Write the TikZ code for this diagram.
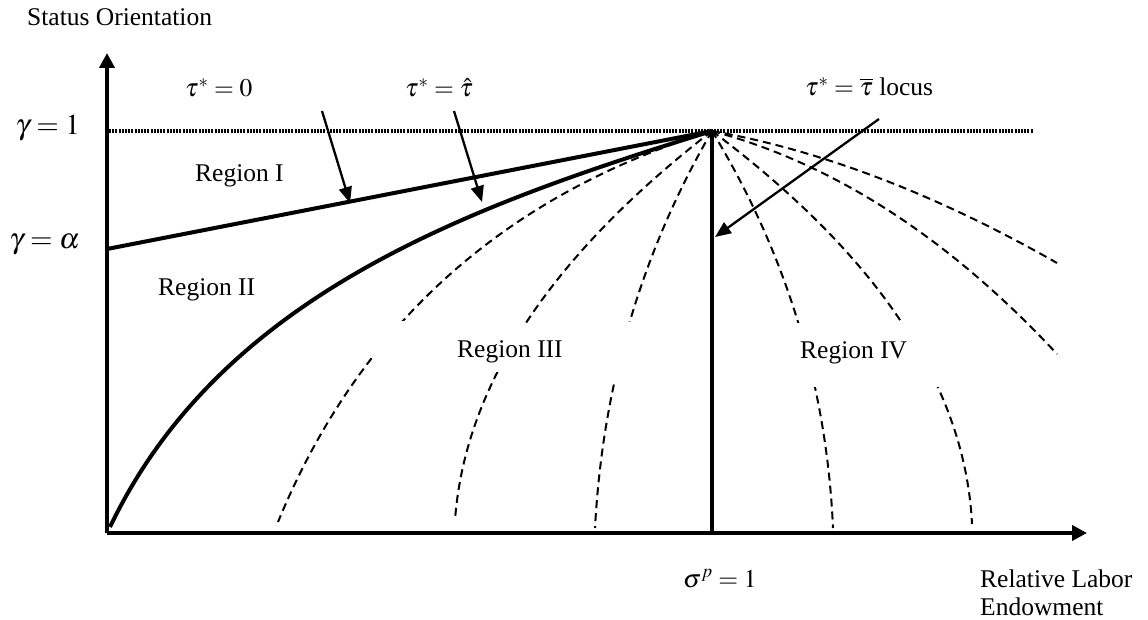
\documentclass[tikz,border=0pt]{standalone}
\usepackage{fix-cm}
\usepackage{mathptmx}
\usepackage{fontspec}
\setmainfont{Liberation Serif}
\usetikzlibrary{arrows.meta,calc}
\newcommand\fanA[2]{\draw[dsh] (P) .. controls ($(P)!2/3!(#1)$) and ($(#2)!2/3!(#1)$) .. (#2);}
\newcommand\fanB[4]{%
  \begin{scope}\clip (0,0) rectangle (1148,#3);\fanA{#1}{#2}\end{scope}%
  \begin{scope}\clip (0,#4) rectangle (1148,620);\fanA{#1}{#2}\end{scope}}
\begin{document}
\begin{tikzpicture}[x=1pt,y=-1pt,
  thickln/.style={line width=4pt},
  dsh/.style={line width=2pt,dash pattern=on 8pt off 5pt},
  dotln/.style={line width=3.4pt,dash pattern=on 2pt off 1.2pt},
  pointer/.style={line width=2.3pt,-{Triangle[length=16pt,width=13pt]}},
  axis/.style={line width=4.5pt,-{Triangle[length=15pt,width=15pt]}},
  lbl/.style={font=\fontsize{25.5}{28}\selectfont,inner sep=0pt},
  glbl/.style={font=\fontsize{29}{32}\selectfont,inner sep=0pt}]
\useasboundingbox (0,0) rectangle (1148,620);
% key points
\coordinate (O) at (107,533);
\coordinate (P) at (712,131);
\coordinate (Ytop) at (107,53);
\coordinate (Xend) at (1087,533);
\coordinate (A) at (107,249);
\coordinate (B) at (712,533);
\coordinate (S) at (110,527);
\coordinate (C1) at (222,293);
\coordinate (C2) at (473,205);
\coordinate (Dend) at (1033,131);
\coordinate (Dstart) at (109,131);
% fan of dashed curves: control / end points
\coordinate (L1c) at (399,227.5); \coordinate (L1e) at (278,522);
\coordinate (L2c) at (470,318);   \coordinate (L2e) at (455,520);
\coordinate (L3c) at (606.5,312.5); \coordinate (L3e) at (595,528);
\coordinate (R4c) at (823.5,314.5); \coordinate (R4e) at (833,528);
\coordinate (R3c) at (962,318.5); \coordinate (R3e) at (972,524);
\coordinate (R2c) at (895,180);   \coordinate (R2e) at (1057,354);
\coordinate (R1c) at (876,160);   \coordinate (R1e) at (1057,263);
\fanB{L1c}{L1e}{320}{357}
\fanB{L2c}{L2e}{322}{372}
\fanB{L3c}{L3e}{321}{383}
\fanB{R4c}{R4e}{322}{387}
\fanB{R3c}{R3e}{323}{387}
\fanA{R2c}{R2e}
\fanA{R1c}{R1e}
% dotted gamma = 1 line
\draw[dotln] (Dstart) -- (Dend);
% solid loci
\draw[thickln] (A) -- (P);
\draw[thickln] (S) .. controls (C1) and (C2) .. (P);
\draw[thickln] (P) -- (B);
% axes
\draw[axis] (O) -- (Ytop);
\draw[axis] (O) -- (Xend);
% labels
\node[lbl,anchor=base west] (so) at (27,26) {Status Orientation};
\node[glbl,anchor=base east] (g1) at (80,135) {$\gamma=1$};
\node[glbl,anchor=base east] (ga) at (80,249) {$\gamma=\alpha$};
\node[lbl,anchor=base west] (t0) at (185,97) {$\tau^{*}=0$};
\node[lbl,anchor=base west] (th) at (405,97) {$\tau^{*}=\hat{\tau}$};
\node[lbl,anchor=base west] (tb) at (805,96) {$\tau^{*}=\overline{\tau}$ locus};
\node[lbl,anchor=base west] (r1) at (195,182) {Region I};
\node[lbl,anchor=base west] (r2) at (158,295) {Region II};
\node[lbl,anchor=base west] (r3) at (457,357) {Region III};
\node[lbl,anchor=base west] (r4) at (800,358) {Region IV};
\node[lbl,anchor=base west] (sp) at (683,587) {$\sigma^{p}=1$};
\node[lbl,anchor=base west] (rl) at (980,587) {Relative Labor};
\node[lbl,anchor=base west] (en) at (980,615) {Endowment};
% pointer arrows
\coordinate (a1s) at (322,111); \coordinate (a1e) at (350,203);
\coordinate (a2s) at (454,111); \coordinate (a2e) at (482,202);
\coordinate (a3s) at (879,119); \coordinate (a3e) at (715,237);
\draw[pointer] (a1s) -- (a1e);
\draw[pointer] (a2s) -- (a2e);
\draw[pointer] (a3s) -- (a3e);
\end{tikzpicture}
\end{document}
